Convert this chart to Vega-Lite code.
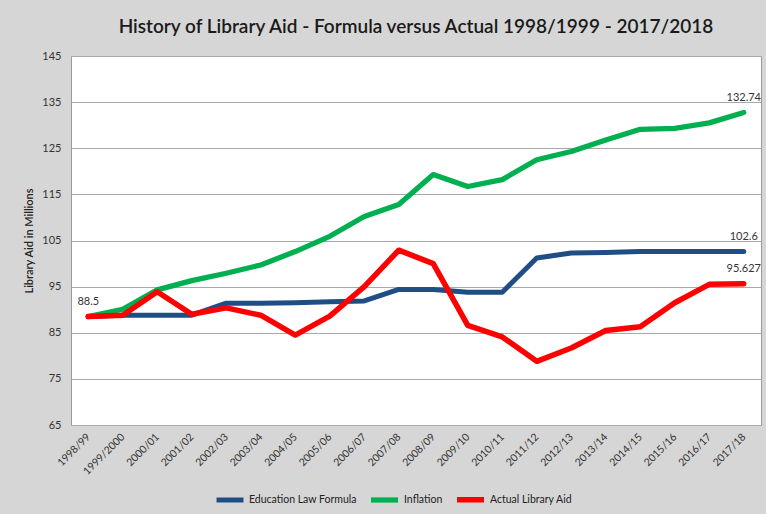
{
  "$schema": "https://vega.github.io/schema/vega-lite/v6.json",
  "autosize": "none",
  "width": 690,
  "height": 369,
  "padding": {"left": 71, "top": 56, "right": 5, "bottom": 89},
  "background": "#d6d6d6",
  "title": {
    "text": "History of Library Aid - Formula versus Actual 1998/1999 - 2017/2018",
    "font": "Lato",
    "fontSize": 19,
    "fontWeight": 600,
    "color": "#1a1a1a",
    "anchor": "middle",
    "offset": 13
  },
  "config": {
    "view": {"fill": "white", "stroke": "#9a9a9a"},
    "font": "Lato"
  },
  "data": {
    "values": [
      {"year": "1998/99", "series": "Education Law Formula", "value": 88.5},
      {"year": "1999/2000", "series": "Education Law Formula", "value": 88.8},
      {"year": "2000/01", "series": "Education Law Formula", "value": 88.8},
      {"year": "2001/02", "series": "Education Law Formula", "value": 88.8},
      {"year": "2002/03", "series": "Education Law Formula", "value": 91.4},
      {"year": "2003/04", "series": "Education Law Formula", "value": 91.4},
      {"year": "2004/05", "series": "Education Law Formula", "value": 91.5},
      {"year": "2005/06", "series": "Education Law Formula", "value": 91.7},
      {"year": "2006/07", "series": "Education Law Formula", "value": 91.9},
      {"year": "2007/08", "series": "Education Law Formula", "value": 94.4},
      {"year": "2008/09", "series": "Education Law Formula", "value": 94.4},
      {"year": "2009/10", "series": "Education Law Formula", "value": 93.8},
      {"year": "2010/11", "series": "Education Law Formula", "value": 93.8},
      {"year": "2011/12", "series": "Education Law Formula", "value": 101.2},
      {"year": "2012/13", "series": "Education Law Formula", "value": 102.3},
      {"year": "2013/14", "series": "Education Law Formula", "value": 102.4},
      {"year": "2014/15", "series": "Education Law Formula", "value": 102.6},
      {"year": "2015/16", "series": "Education Law Formula", "value": 102.6},
      {"year": "2016/17", "series": "Education Law Formula", "value": 102.6},
      {"year": "2017/18", "series": "Education Law Formula", "value": 102.6},
      {"year": "1998/99", "series": "Inflation", "value": 88.5},
      {"year": "1999/2000", "series": "Inflation", "value": 90.1},
      {"year": "2000/01", "series": "Inflation", "value": 94.3},
      {"year": "2001/02", "series": "Inflation", "value": 96.3},
      {"year": "2002/03", "series": "Inflation", "value": 97.9},
      {"year": "2003/04", "series": "Inflation", "value": 99.7},
      {"year": "2004/05", "series": "Inflation", "value": 102.6},
      {"year": "2005/06", "series": "Inflation", "value": 105.9},
      {"year": "2006/07", "series": "Inflation", "value": 110.2},
      {"year": "2007/08", "series": "Inflation", "value": 112.8},
      {"year": "2008/09", "series": "Inflation", "value": 119.3},
      {"year": "2009/10", "series": "Inflation", "value": 116.7},
      {"year": "2010/11", "series": "Inflation", "value": 118.2},
      {"year": "2011/12", "series": "Inflation", "value": 122.5},
      {"year": "2012/13", "series": "Inflation", "value": 124.3},
      {"year": "2013/14", "series": "Inflation", "value": 126.8},
      {"year": "2014/15", "series": "Inflation", "value": 129.1},
      {"year": "2015/16", "series": "Inflation", "value": 129.3},
      {"year": "2016/17", "series": "Inflation", "value": 130.5},
      {"year": "2017/18", "series": "Inflation", "value": 132.74},
      {"year": "1998/99", "series": "Actual Library Aid", "value": 88.5},
      {"year": "1999/2000", "series": "Actual Library Aid", "value": 88.8},
      {"year": "2000/01", "series": "Actual Library Aid", "value": 93.9},
      {"year": "2001/02", "series": "Actual Library Aid", "value": 89.0},
      {"year": "2002/03", "series": "Actual Library Aid", "value": 90.4},
      {"year": "2003/04", "series": "Actual Library Aid", "value": 88.8},
      {"year": "2004/05", "series": "Actual Library Aid", "value": 84.5},
      {"year": "2005/06", "series": "Actual Library Aid", "value": 88.6},
      {"year": "2006/07", "series": "Actual Library Aid", "value": 95.0},
      {"year": "2007/08", "series": "Actual Library Aid", "value": 102.9},
      {"year": "2008/09", "series": "Actual Library Aid", "value": 100.0},
      {"year": "2009/10", "series": "Actual Library Aid", "value": 86.6},
      {"year": "2010/11", "series": "Actual Library Aid", "value": 84.1},
      {"year": "2011/12", "series": "Actual Library Aid", "value": 78.8},
      {"year": "2012/13", "series": "Actual Library Aid", "value": 81.7},
      {"year": "2013/14", "series": "Actual Library Aid", "value": 85.5},
      {"year": "2014/15", "series": "Actual Library Aid", "value": 86.3},
      {"year": "2015/16", "series": "Actual Library Aid", "value": 91.5},
      {"year": "2016/17", "series": "Actual Library Aid", "value": 95.5},
      {"year": "2017/18", "series": "Actual Library Aid", "value": 95.627}
    ]
  },
  "encoding": {
    "x": {
      "field": "year",
      "type": "ordinal",
      "sort": null,
      "scale": {"type": "point", "padding": 0.5},
      "axis": {
        "title": null,
        "labelAngle": -45,
        "labelAlign": "right",
        "labelBaseline": "middle",
        "labelFontSize": 10.5,
        "labelColor": "#333333",
        "labelPadding": 10,
        "ticks": false,
        "domain": false,
        "grid": false
      }
    },
    "y": {
      "field": "value",
      "type": "quantitative",
      "scale": {"domain": [65, 145], "nice": false, "zero": false},
      "axis": {
        "values": [65, 75, 85, 95, 105, 115, 125, 135, 145],
        "title": "Library Aid in Millions",
        "titleFontSize": 11,
        "titleFontWeight": 600,
        "titleColor": "#222222",
        "titlePadding": 7,
        "labelFontSize": 11,
        "labelColor": "#333333",
        "labelPadding": 10,
        "ticks": false,
        "domain": false,
        "gridColor": "#a8a8a8",
        "gridWidth": 1
      }
    }
  },
  "layer": [
    {
      "mark": {"type": "line", "strokeCap": "round", "strokeJoin": "round"},
      "encoding": {
        "color": {
          "field": "series",
          "type": "nominal",
          "sort": ["Education Law Formula", "Inflation", "Actual Library Aid"],
          "scale": {
            "domain": ["Education Law Formula", "Inflation", "Actual Library Aid"],
            "range": ["#1f4e85", "#00b050", "#ff0000"]
          },
          "legend": {
            "title": null,
            "orient": "none",
            "direction": "horizontal",
            "legendX": 143,
            "legendY": 427,
            "symbolType": "stroke",
            "symbolStrokeWidth": 5,
            "symbolSize": 729,
            "labelFontSize": 10.5,
            "labelColor": "#222222",
            "columnPadding": 3,
            "symbolOffset": 0,
            "labelOffset": 3
          }
        },
        "strokeWidth": {
          "field": "series",
          "type": "nominal",
          "scale": {
            "domain": ["Education Law Formula", "Inflation", "Actual Library Aid"],
            "range": [5, 5.5, 8.5]
          },
          "legend": null
        },
        "order": {"field": "series", "type": "nominal"}
      }
    },
    {
      "transform": [
        {"filter": "datum.year == '2017/18' || (datum.year == '1998/99' && datum.series == 'Actual Library Aid')"}
      ],
      "mark": {"type": "text", "dy": -15, "fontSize": 11, "color": "#333333"},
      "encoding": {
        "text": {"field": "value", "type": "nominal"}
      }
    }
  ]
}
